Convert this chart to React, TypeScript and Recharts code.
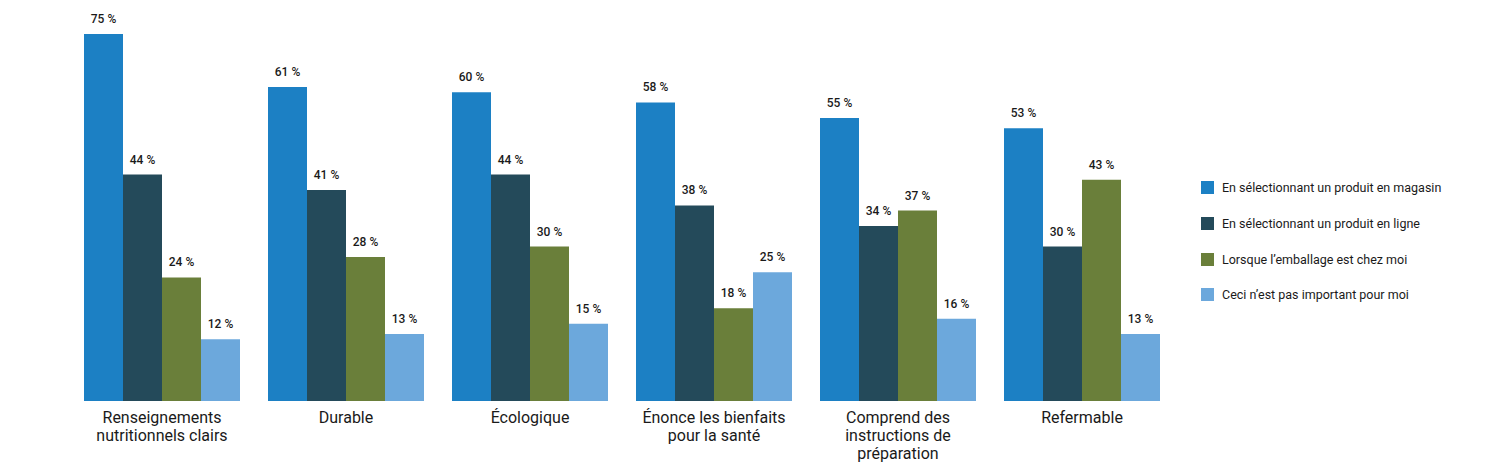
import * as React from "react"
import { BarChart, Bar, XAxis, YAxis, LabelList } from "recharts"

// categories (line breaks as in the picture)
const categories = [
  "Renseignements\nnutritionnels clairs",
  "Durable",
  "Écologique",
  "Énonce les bienfaits\npour la santé",
  "Comprend des\ninstructions de\npréparation",
  "Refermable",
]

const seriesNames = [
  "En sélectionnant un produit en magasin",
  "En sélectionnant un produit en ligne",
  "Lorsque l’emballage est chez moi",
  "Ceci n’est pas important pour moi",
]

const inStore = [75, 61, 60, 58, 55, 53]
const online = [44, 41, 44, 38, 34, 30]
const atHome = [24, 28, 30, 18, 37, 43]
const notImportant = [12, 13, 15, 25, 16, 13]

const COLORS = ["#1c80c4", "#244a5a", "#6a7f3a", "#6ca8dc"]
const KEYS = ["s0", "s1", "s2", "s3"]

const data = categories.map((name, i) => ({
  name,
  s0: inStore[i],
  s1: online[i],
  s2: atHome[i],
  s3: notImportant[i],
}))

const FONT = "Roboto, 'Noto Sans', sans-serif"
const PLOT_TOP = 34

function CategoryTick(props: any) {
  const { x, y, payload } = props
  const lines = String(payload.value).split("\n")
  return (
    <text x={x} y={y + 14} textAnchor="middle" fill="#1a1a1a" fontSize={16} fontFamily={FONT}>
      {lines.map((l, i) => (
        <tspan key={i} x={x} dy={i === 0 ? 0 : 18}>{l}</tspan>
      ))}
    </text>
  )
}

// value label above the bar, kept inside the plot when the bar overflows the top
function ValueLabel(props: any) {
  const { x, y, width, value } = props
  const top = Math.max(y, PLOT_TOP)
  return (
    <text x={x + width / 2} y={top - 11} textAnchor="middle" fontSize={12} fontWeight={500}
      fill="#1a1a1a" fontFamily={FONT}>
      {`${value} %`}
    </text>
  )
}

export default function App() {
  return (
    <div style={{ position: "relative", width: 1500, height: 471, background: "#fff", fontFamily: FONT }}>
      <style>{"body{margin:0}"}</style>
      <BarChart
        width={1500}
        height={471}
        data={data}
        margin={{ top: PLOT_TOP, right: 326, bottom: 0, left: 70 }}
        barCategoryGap={14}
        barGap={0}
      >
        <XAxis dataKey="name" axisLine={false} tickLine={false} height={70} interval={0} tick={<CategoryTick />} />
        <YAxis hide domain={[0, 71.3]} allowDataOverflow />
        {KEYS.map((k, i) => (
          <Bar key={k} dataKey={k} fill={COLORS[i]} isAnimationActive={false}>
            <LabelList dataKey={k} content={<ValueLabel />} />
          </Bar>
        ))}
      </BarChart>
      {/* Legend */}
      <div style={{ position: "absolute", left: 1201, top: 170 }}>
        {seriesNames.map((n, i) => (
          <div key={n} style={{ display: "flex", alignItems: "center", height: 35.7 }}>
            <div style={{ width: 13, height: 13, background: COLORS[i], marginRight: 8 }} />
            <span style={{ fontSize: 12.5, color: "#1a1a1a" }}>{n}</span>
          </div>
        ))}
      </div>
    </div>
  )
}
